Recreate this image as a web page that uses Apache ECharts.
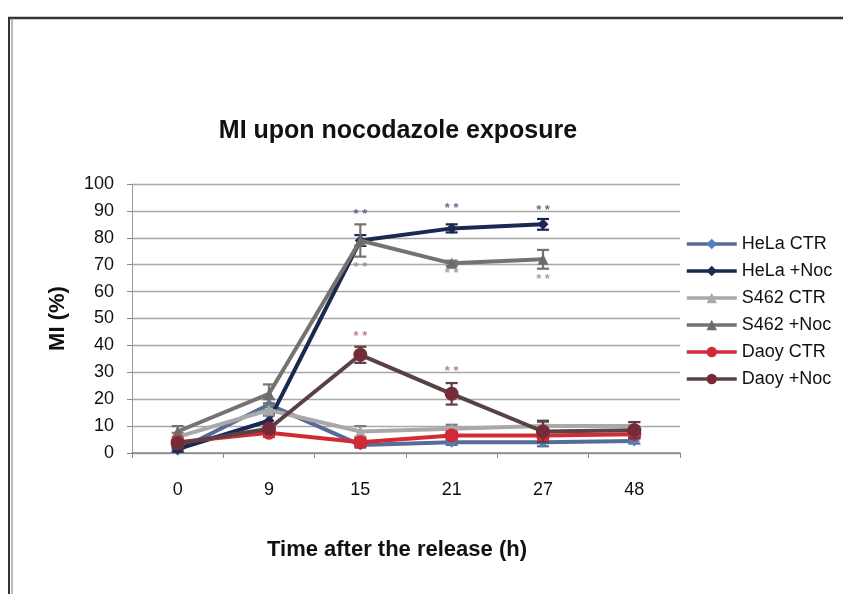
<!DOCTYPE html>
<html>
<head>
<meta charset="utf-8">
<script src="https://cdn.jsdelivr.net/npm/echarts@6/dist/echarts.min.js"></script>
<style>html,body{margin:0;padding:0;background:#fff}#c{width:843px;height:594px}</style>
</head>
<body>
<div id="c"></div>
<script>
const categories = ['0', '9', '15', '21', '27', '48'];
const yTicks = [0, 10, 20, 30, 40, 50, 60, 70, 80, 90, 100];

const seriesNames = ['HeLa CTR', 'HeLa +Noc', 'S462 CTR', 'S462 +Noc', 'Daoy CTR', 'Daoy +Noc'];
const helaCtr = [1, 18, 3, 4, 4, 4.5];
const helaNoc = [1.5, 12, 79, 83.5, 85, null];
const s462Ctr = [6, 16, 8, 9, 10, 10];
const s462Noc = [8, 22, 79, 70.5, 72, null];
const daoyCtr = [4, 7.5, 4, 6.5, 6.5, 7];
const daoyNoc = [3.5, 9, 36.5, 22, 8, 8.5];

const helaCtrErr = [0.5, 2, 1, 1, 1.5, 1];
const helaNocErr = [1, 2, 2, 1.5, 2, null];
const s462CtrErr = [1.5, 2, 2, 1.5, 1.5, 1.5];
const s462NocErr = [2, 3.5, 6, 1, 3.5, null];
const daoyCtrErr = [1, 1.5, 1.5, 1.5, 1.5, 1.5];
const daoyNocErr = [1.5, 1.5, 3, 4, 4, 3];

// significance marks: [category index, value position]
const starsHela = [[2, 88.7], [3, 91], [4, 90]];
const starsS462 = [[2, 69], [3, 66.8], [4, 64.5]];
const starsDaoy = [[2, 43.4], [3, 30.5]];

const lineColors = ['#556b98', '#1b2852', '#a9a9a9', '#76726e', '#d22b36', '#5a4244'];
const markerColors = ['#4f81bd', '#1b2852', '#a9a9a9', '#6e6b68', '#cf2a35', '#772a37'];
const symbols = ['diamond', 'diamond', 'triangle', 'triangle', 'circle', 'circle'];
const symbolSizes = [11, 11, 11, 11, 14, 14];

const values = [helaCtr, helaNoc, s462Ctr, s462Noc, daoyCtr, daoyNoc];
const errs = [helaCtrErr, helaNocErr, s462CtrErr, s462NocErr, daoyCtrErr, daoyNocErr];

function errData(v, e) {
  const out = [];
  v.forEach((val, i) => {
    if (val != null && e[i] != null) out.push([i, val - e[i], val + e[i]]);
  });
  return out;
}

function errRender(color) {
  return function (params, api) {
    const x = api.value(0);
    const lo = api.coord([x, api.value(1)]);
    const hi = api.coord([x, api.value(2)]);
    const w = 6;
    const st = { stroke: color, lineWidth: 2.2 };
    return {
      type: 'group',
      children: [
        { type: 'line', shape: { x1: lo[0], y1: lo[1], x2: hi[0], y2: hi[1] }, style: st },
        { type: 'line', shape: { x1: hi[0] - w, y1: hi[1], x2: hi[0] + w, y2: hi[1] }, style: st },
        { type: 'line', shape: { x1: lo[0] - w, y1: lo[1], x2: lo[0] + w, y2: lo[1] }, style: st }
      ]
    };
  };
}

const series = [];
values.forEach((v, k) => {
  series.push({
    name: seriesNames[k],
    type: 'line',
    data: v,
    symbol: symbols[k],
    symbolSize: symbolSizes[k],
    showSymbol: true,
    connectNulls: false,
    lineStyle: { color: lineColors[k], width: 4 },
    itemStyle: { color: markerColors[k] },
    z: 3 + k
  });
  series.push({
    type: 'custom',
    name: seriesNames[k] + ' err',
    data: errData(v, errs[k]),
    renderItem: errRender(lineColors[k] === '#a9a9a9' ? '#7a7a7a' : lineColors[k]),
    encode: { x: 0, y: [1, 2] },
    z: 3 + k,
    silent: true
  });
});

function starSeries(data, color) {
  return {
    type: 'scatter',
    data: data,
    symbolSize: 0,
    silent: true,
    label: { show: true, formatter: '* *', position: 'inside', color: color, fontSize: 13, fontWeight: 'bold', fontFamily: 'Liberation Sans' },
    z: 10
  };
}
series.push(starSeries(starsHela, '#3e4c74'));
series.push(starSeries(starsS462, '#8a8a8a'));
series.push(starSeries(starsDaoy, '#b0606a'));

const chart = echarts.init(document.getElementById('c'), null, { renderer: 'canvas' });
chart.setOption({
  animation: false,
  backgroundColor: '#fff',
  title: {
    text: 'MI upon nocodazole exposure',
    left: 393, top: 114, textAlign: 'center',
    textStyle: { fontFamily: 'Liberation Sans', fontSize: 25, fontWeight: 'bold', color: '#111' }
  },
  graphic: [
    { type: 'line', shape: { x1: 8, y1: 18, x2: 843, y2: 18 }, style: { stroke: '#333', lineWidth: 2.5 } },
    { type: 'line', shape: { x1: 9, y1: 18, x2: 9, y2: 594 }, style: { stroke: '#333', lineWidth: 2 } },
    { type: 'line', shape: { x1: 12, y1: 18, x2: 12, y2: 594 }, style: { stroke: '#777', lineWidth: 1 } }
  ],
  legend: {
    orient: 'vertical',
    left: 680, top: 230,
    itemWidth: 50, itemHeight: 13, itemGap: 9,
    data: seriesNames,
    lineStyle: { width: 3.5 },
    textStyle: { fontFamily: 'Liberation Sans', fontSize: 18, color: '#111' }
  },
  grid: { left: 132, right: 163, top: 184, bottom: 141 },
  xAxis: {
    type: 'category',
    data: categories,
    boundaryGap: true,
    name: 'Time after the release (h)',
    nameLocation: 'middle',
    nameGap: 86,
    nameTextStyle: { fontFamily: 'Liberation Sans', fontSize: 22, fontWeight: 'bold', color: '#111', padding: [0, 18, 0, 0] },
    axisLine: { lineStyle: { color: '#888', width: 1.5 } },
    axisTick: { show: true, alignWithLabel: false, length: 5, lineStyle: { color: '#888' } },
    axisLabel: { margin: 28, fontFamily: 'Liberation Sans', fontSize: 18, color: '#111' }
  },
  yAxis: {
    type: 'value',
    min: 0, max: 100, interval: 10,
    name: 'MI (%)',
    nameLocation: 'middle',
    nameGap: 63,
    nameRotate: 90,
    nameTextStyle: { fontFamily: 'Liberation Sans', fontSize: 22, fontWeight: 'bold', color: '#111' },
    axisLine: { show: true, lineStyle: { color: '#999', width: 1 } },
    axisTick: { show: true, length: 5, lineStyle: { color: '#888' } },
    axisLabel: {
      margin: 18, fontFamily: 'Liberation Sans', fontSize: 18, color: '#111',
      formatter: v => yTicks.includes(v) ? String(v) : ''
    },
    splitLine: { show: true, lineStyle: { color: '#a8a8a8', width: 1.3 } }
  },
  series: series
});
</script>
</body>
</html>
